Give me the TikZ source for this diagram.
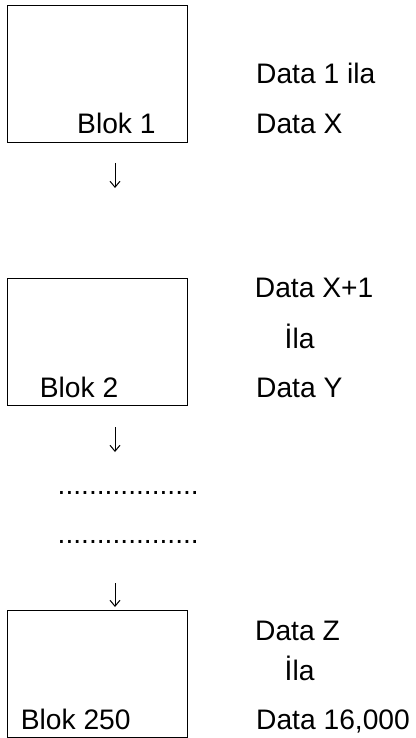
\documentclass[tikz,border=0pt]{standalone}
\usepackage{fontspec}
\setmainfont{Liberation Sans}
\usetikzlibrary{arrows.meta}
\begin{document}
\begin{tikzpicture}[x=1pt,y=-1pt,
  blok/.style={draw=black,line width=0.9pt,minimum width=179.8pt,inner sep=0pt},
  lbl/.style={anchor=base west,inner sep=0pt,font=\fontsize{28.2}{33}\selectfont},
  down/.style={line width=1pt,-{Straight Barb[length=6pt,width=10pt,line width=1pt]}}]
\useasboundingbox (0,0) rectangle (415,738);
% memory blocks
\node[blok,minimum height=137.7pt] (b1) at (97.4,73.85) {};
\node[blok,minimum height=126.7pt] (b2) at (97.4,341.65) {};
\node[blok,minimum height=126.8pt] (b3) at (97.4,673.9) {};
% block labels
\node[lbl] (t1) at (77,134) {Blok 1};
\node[lbl] (t2) at (39.7,397.3) {Blok 2};
\node[lbl] (t3) at (20.7,729.3) {Blok 250};
% data ranges
\node[lbl] (d1) at (256,84) {Data 1 ila};
\node[lbl] (d2) at (256,134) {Data X};
\node[lbl] (d3) at (254.7,297.7) {Data X+1};
\node[lbl] (d4) at (284.5,348.3) {İla};
\node[lbl] (d5) at (256,397.3) {Data Y};
\node[lbl] (d6) at (255,640.7) {Data Z};
\node[lbl] (d7) at (284.5,680) {İla};
\node[lbl] (d8) at (256,729.3) {Data 16,000};
% ellipsis rows
\node[lbl] (e1) at (57.5,494) {..................};
\node[lbl] (e2) at (57.5,543.3) {..................};
% arrows between blocks
\coordinate (a1s) at (115,163);
\coordinate (a1e) at (115,188);
\coordinate (a2s) at (115,427);
\coordinate (a2e) at (115,452);
\coordinate (a3s) at (115,583);
\coordinate (a3e) at (115,607);
\draw[down] (a1s) -- (a1e);
\draw[down] (a2s) -- (a2e);
\draw[down] (a3s) -- (a3e);
\end{tikzpicture}
\end{document}
